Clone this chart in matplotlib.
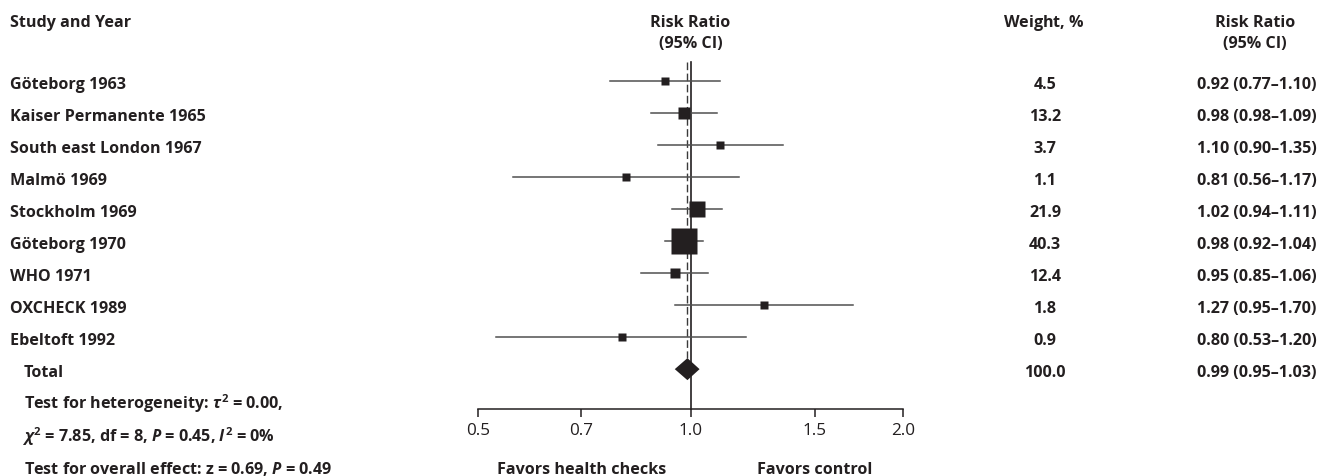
import matplotlib
matplotlib.use("Agg")
import matplotlib.pyplot as plt
import matplotlib.transforms as mtransforms
from matplotlib.patches import Polygon
from matplotlib.ticker import NullLocator, FixedLocator, FixedFormatter
import numpy as np

# ---------------- data ----------------
studies = ["Göteborg 1963", "Kaiser Permanente 1965", "South east London 1967",
           "Malmö 1969", "Stockholm 1969", "Göteborg 1970", "WHO 1971",
           "OXCHECK 1989", "Ebeltoft 1992"]
rr = [0.92, 0.98, 1.10, 0.81, 1.02, 0.98, 0.95, 1.27, 0.80]
ci_low = [0.77, 0.88, 0.90, 0.56, 0.94, 0.92, 0.85, 0.95, 0.53]
ci_high = [1.10, 1.09, 1.35, 1.17, 1.11, 1.04, 1.06, 1.70, 1.20]
weights = [4.5, 13.2, 3.7, 1.1, 21.9, 40.3, 12.4, 1.8, 0.9]
weight_labels = ["4.5", "13.2", "3.7", "1.1", "21.9", "40.3", "12.4", "1.8", "0.9"]
rr_labels = ["0.92 (0.77–1.10)", "0.98 (0.98–1.09)", "1.10 (0.90–1.35)",
             "0.81 (0.56–1.17)", "1.02 (0.94–1.11)", "0.98 (0.92–1.04)",
             "0.95 (0.85–1.06)", "1.27 (0.95–1.70)", "0.80 (0.53–1.20)"]
total_rr, total_low, total_high = 0.99, 0.95, 1.03
total_weight_label = "100.0"
total_rr_label = "0.99 (0.95–1.03)"
xticks = [0.5, 0.7, 1.0, 1.5, 2.0]
xtick_labels = ["0.5", "0.7", "1.0", "1.5", "2.0"]

# ---------------- style ----------------
W, H = 1335, 477
FONT = "Open Sans"
TXT = "#231f20"
LINE = "#505050"
plt.rcParams["font.family"] = [FONT, "DejaVu Sans"]
plt.rcParams["mathtext.fontset"] = "custom"
plt.rcParams["mathtext.rm"] = f"{FONT}:bold"
plt.rcParams["mathtext.it"] = f"{FONT}:bold:italic"
plt.rcParams["mathtext.bf"] = f"{FONT}:bold"
FS = 11.6

fig = plt.figure(figsize=(W / 100, H / 100), dpi=100)
ax = fig.add_axes([478 / W, 0, 425 / W, 1])
ax.set_xscale("log")
ax.set_xlim(0.5, 2.0)
ax.set_ylim(H, 0)  # y in pixel-like layout units
ax.patch.set_visible(False)
for s in ["top", "left", "right"]:
    ax.spines[s].set_visible(False)
ax.spines["bottom"].set_position(("data", 410))
ax.spines["bottom"].set_color(TXT)
ax.spines["bottom"].set_linewidth(1.1)
ax.yaxis.set_visible(False)
ax.xaxis.set_major_locator(FixedLocator(xticks))
ax.xaxis.set_major_formatter(FixedFormatter(xtick_labels))
ax.xaxis.set_minor_locator(NullLocator())
ax.tick_params(axis="x", direction="out", length=6, width=1.1, color=TXT,
               labelsize=12.3, labelcolor=TXT, pad=3.5)

y0, dy = 81.7, 32.05
n = len(studies)
ys = y0 + dy * np.arange(n)
y_total = y0 + dy * n
y_text = [y0 + dy * (n + k) for k in (1, 2, 3)]

# reference lines
ax.plot([1.0, 1.0], [63, 410], color=TXT, lw=1.2, zorder=2)
ax.plot([total_rr, total_rr], [63, y_total - 11], color="#3a3a3a", lw=1.0,
        linestyle=(0, (5.5, 2.5)), zorder=2)

# CIs and squares
for i in range(n):
    ax.plot([ci_low[i], ci_high[i]], [ys[i], ys[i]], color=LINE, lw=1.1, zorder=3)
    side_px = max(8.0, 4.3 + 0.54 * weights[i])
    ax.plot(rr[i], ys[i], marker="s", ms=side_px * 0.72, color=TXT,
            mec="none", zorder=4)

# diamond
hh = 11
diamond = Polygon([(total_low, y_total), (total_rr, y_total - hh),
                   (total_high, y_total), (total_rr, y_total + hh)],
                  closed=True, facecolor=TXT, edgecolor="none", zorder=5)
ax.add_patch(diamond)

# text helpers
tr = mtransforms.blended_transform_factory(fig.transFigure, ax.transData)


def t(px, y, s, ha="left", **kw):
    fig.text(px / W, y, s, ha=ha, va="baseline", transform=tr, fontsize=FS,
             fontweight="bold", color=TXT, **kw)


BL = 7.3  # baseline offset from row centre

# headers
t(10, 27, "Study and Year")
ax.text(1.0, 27, "Risk Ratio", ha="center", va="baseline", fontsize=FS,
        fontweight="bold", color=TXT)
ax.text(1.0, 48, "(95% CI)", ha="center", va="baseline", fontsize=FS,
        fontweight="bold", color=TXT)
t(1044, 27, "Weight, $\\mathit{\\%}$", ha="center")
t(1255, 27, "Risk Ratio", ha="center")
t(1255, 48, "(95% CI)", ha="center")

# rows
for i in range(n):
    t(10, ys[i] + BL, studies[i])
    t(1045, ys[i] + BL, weight_labels[i], ha="center")
    t(1257, ys[i] + BL, rr_labels[i], ha="center")

t(24, y_total + BL, "Total")
t(1045, y_total + BL, total_weight_label, ha="center")
t(1257, y_total + BL, total_rr_label, ha="center")

t(24, y_text[0] + BL, "Test for heterogeneity: $\\tau^2$ = 0.00,")
t(22, y_text[1] + BL, "$\\chi^2$ = 7.85, df = 8, $P$ = 0.45, $I^2$ = 0%")
t(24, y_text[2] + BL, "Test for overall effect: z = 0.69, $P$ = 0.49")

ax.text(0.7, y_text[2] + BL, "Favors health checks", ha="center",
        va="baseline", fontsize=FS, fontweight="bold", color=TXT)
ax.text(1.5, y_text[2] + BL, "Favors control", ha="center",
        va="baseline", fontsize=FS, fontweight="bold", color=TXT)

fig.savefig("out.png", dpi=100, facecolor="white")
